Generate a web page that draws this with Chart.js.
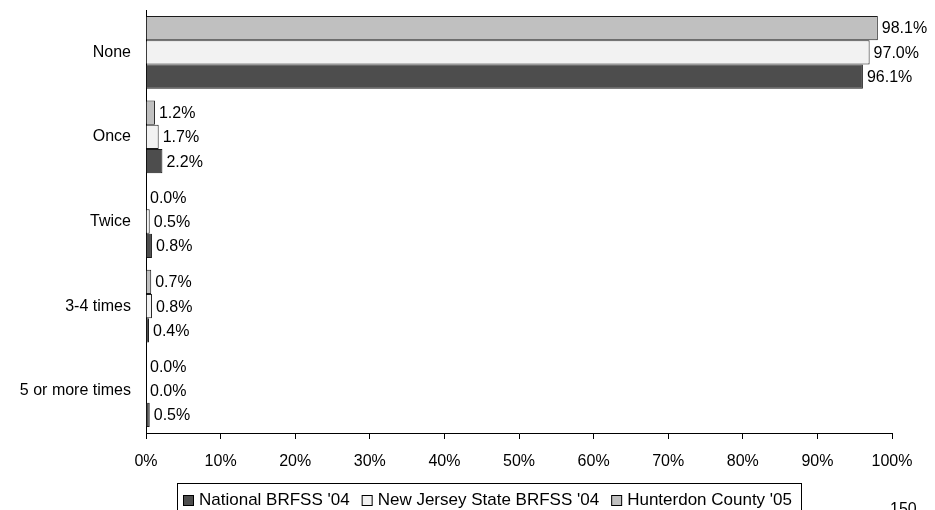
<!DOCTYPE html>
<html>
<head>
<meta charset="utf-8">
<script src="https://cdn.jsdelivr.net/npm/chart.js@4.4.1/dist/chart.umd.min.js"></script>
<style>
  html, body { margin: 0; padding: 0; background: #fff; }
  #wrap { width: 935px; height: 510px; position: relative; }
</style>
</head>
<body>
<div id="wrap"><canvas id="chart"></canvas></div>
<script>
// categories and values (percent)
const categories = ['None', 'Once', 'Twice', '3-4 times', '5 or more times'];
const hunterdon05 = [98.1, 1.2, 0.0, 0.7, 0.0];
const newJersey04 = [97.0, 1.7, 0.5, 0.8, 0.0];
const national04 = [96.1, 2.2, 0.8, 0.4, 0.5];
const xTicks = [0, 10, 20, 30, 40, 50, 60, 70, 80, 90, 100];
const pageNumber = '150';

const FONT = '"Liberation Sans", Arial, sans-serif';

// value labels at the end of each bar
const barLabels = {
  id: 'barLabels',
  afterDatasetsDraw(chart) {
    const ctx = chart.ctx;
    ctx.save();
    ctx.font = '16px ' + FONT;
    ctx.fillStyle = '#000';
    ctx.textAlign = 'left';
    ctx.textBaseline = 'middle';
    chart.data.datasets.forEach((ds, i) => {
      chart.getDatasetMeta(i).data.forEach((bar, j) => {
        ctx.fillText(ds.data[j].toFixed(1) + '%', bar.x + 4, bar.y + 1);
      });
    });
    ctx.restore();
  }
};

// boxed legend under the axis, plus page number
const boxLegend = {
  id: 'boxLegend',
  afterDraw(chart) {
    const ctx = chart.ctx;
    const items = chart.data.datasets.slice().reverse();
    ctx.save();
    ctx.font = '17px ' + FONT;
    ctx.textBaseline = 'middle';
    ctx.textAlign = 'left';
    const left = 177, top = 483, cy = 500;
    let x = left + 6;
    items.forEach((ds, k) => {
      ctx.fillStyle = ds.backgroundColor;
      ctx.fillRect(x + 0.5, cy - 5 + 0.5, 10, 10);
      ctx.strokeStyle = '#000';
      ctx.lineWidth = 1;
      ctx.strokeRect(x + 0.5, cy - 5 + 0.5, 10, 10);
      x += 16;
      ctx.fillStyle = '#000';
      ctx.fillText(ds.label, x, cy);
      x += ctx.measureText(ds.label).width;
      if (k < items.length - 1) x += 12;
    });
    ctx.strokeStyle = '#000';
    ctx.lineWidth = 1;
    ctx.strokeRect(left + 0.5, top + 0.5, x + 9 - left, 40);

    ctx.font = '16px ' + FONT;
    ctx.fillText(pageNumber, 890, 510);
    ctx.restore();
  }
};

new Chart(document.getElementById('chart'), {
  type: 'bar',
  data: {
    labels: categories,
    datasets: [
      { label: "Hunterdon County '05", data: hunterdon05, backgroundColor: '#c0c0c0' },
      { label: "New Jersey State BRFSS '04", data: newJersey04, backgroundColor: '#f2f2f2' },
      { label: "National BRFSS '04", data: national04, backgroundColor: '#4d4d4d' }
    ]
  },
  options: {
    indexAxis: 'y',
    responsive: true,
    maintainAspectRatio: false,
    animation: false,
    datasets: {
      bar: {
        borderColor: '#1a1a1a',
        borderWidth: 1,
        categoryPercentage: 0.86,
        barPercentage: 1.0
      }
    },
    layout: { padding: { top: 10, right: 43, left: 0, bottom: 0 } },
    plugins: {
      legend: { display: false },
      tooltip: { enabled: false }
    },
    scales: {
      x: {
        min: 0,
        max: 100,
        afterBuildTicks: (scale) => { scale.ticks = xTicks.map(v => ({ value: v })); },
        afterFit: (scale) => { scale.height = 77; },
        grid: { drawOnChartArea: false, drawTicks: true, tickLength: 6, color: '#000' },
        border: { color: '#000', width: 1 },
        ticks: {
          color: '#000',
          font: { family: FONT, size: 16 },
          padding: 13,
          maxRotation: 0,
          callback: (v) => v + '%'
        }
      },
      y: {
        afterFit: (scale) => {
          scale.width = 146;
          scale.paddingTop = 0;
          scale.paddingBottom = 0;
        },
        grid: { display: false, drawTicks: false },
        border: { color: '#000', width: 1 },
        ticks: {
          color: '#000',
          font: { family: FONT, size: 16 },
          padding: 15
        }
      }
    }
  },
  plugins: [barLabels, boxLegend]
});
</script>
</body>
</html>
